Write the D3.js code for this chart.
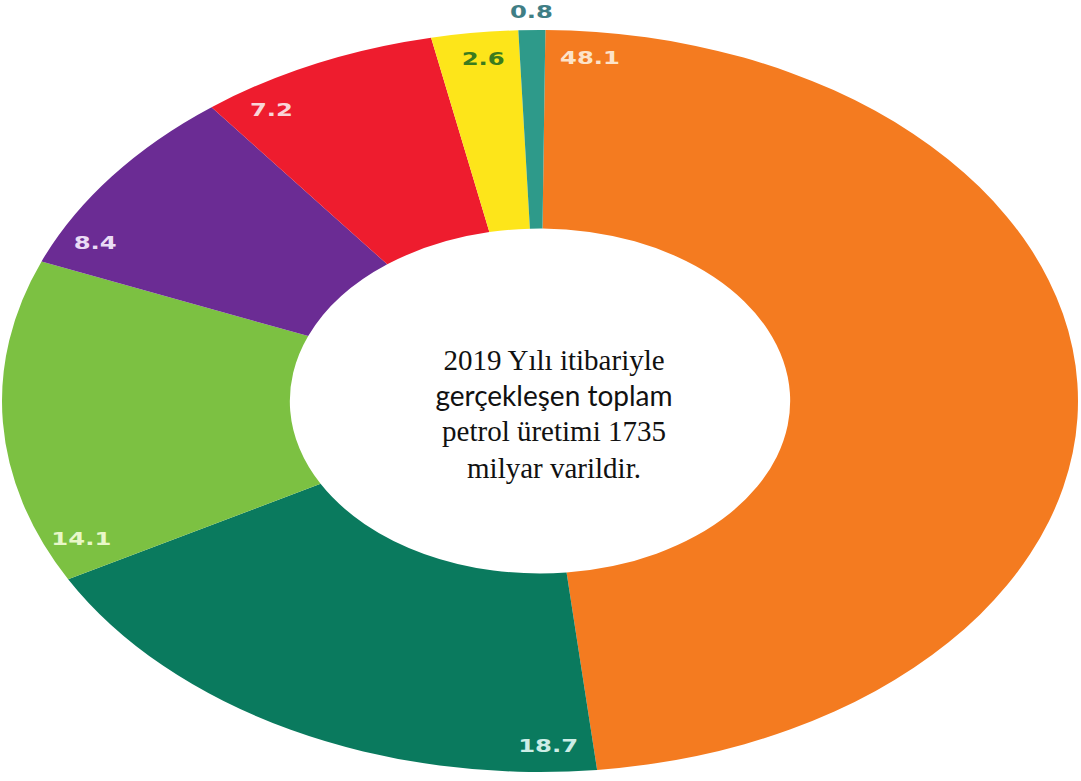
<!DOCTYPE html>
<html>
<head>
<meta charset="utf-8">
<script src="https://cdn.jsdelivr.net/npm/d3@7"></script>
<style>
  html, body { margin: 0; padding: 0; background: #fff; }
  svg { display: block; }
</style>
</head>
<body>
<div id="chart"><svg width="1081" height="781"></svg></div>
<script>
// shares of world oil production, clockwise from the top
const values = [48.1, 18.7, 14.1, 8.4, 7.2, 2.6, 0.8];
const labels = ["48.1", "18.7", "14.1", "8.4", "7.2", "2.6", "0.8"];
const colors = ["#f47b20", "#0a7a5e", "#7cc142", "#6b2c94", "#ee1c2e", "#fde51a", "#2e9a8a"];
const labelColors = ["#fce3c9", "#cdede6", "#e8f7c8", "#eadcf5", "#f9d5d8", "#3b7b1e", "#3f7e85"];
const centerLines = ["2019 Yılı itibariyle", "gerçekleşen toplam", "petrol üretimi 1735", "milyar varildir."];

const svg = d3.select("#chart svg");
const width = +svg.attr("width");
const height = +svg.attr("height");

// the picture is a donut stretched sideways
const cx = 540, cy = 401;
const rx = 538, ry = 371;
const R = 100;

const pie = d3.pie().value((d) => d).sort(null).startAngle(0.01).endAngle(0.01 + 2 * Math.PI);
const arcs = pie(values);

const arc = d3.arc().innerRadius(R * 0.465).outerRadius(R);

const g = svg.append("g")
  .attr("transform", `translate(${cx},${cy}) scale(${rx / R},${ry / R})`);

g.selectAll("path")
  .data(arcs)
  .enter()
  .append("path")
  .attr("d", arc)
  .attr("fill", (_, i) => colors[i]);

// labels near the leading edge of each slice; the tiny last slice gets its label outside
const labelPos = (d, i) => {
  const last = i === arcs.length - 1;
  const a = last ? (d.startAngle + d.endAngle) / 2 : d.startAngle + 0.09;
  const r = last ? 1.05 : 0.93;
  return [cx + r * rx * Math.sin(a), cy - r * ry * Math.cos(a)];
};

svg.append("g")
  .selectAll("text")
  .data(arcs)
  .enter()
  .append("text")
  .attr("transform", (d, i) => {
    const [x, y] = labelPos(d, i);
    return `translate(${x},${y}) scale(1.35,1)`;
  })
  .attr("text-anchor", "middle")
  .attr("dominant-baseline", "central")
  .attr("font-family", "'DejaVu Sans', sans-serif")
  .attr("font-weight", "bold")
  .attr("font-size", 18)
  .attr("fill", (_, i) => labelColors[i])
  .text((_, i) => labels[i]);

// centre note
const note = svg.append("g").attr("transform", "translate(554,0)");
const baselines = [370, 406, 441, 478];
note.selectAll("text")
  .data(centerLines)
  .enter()
  .append("text")
  .attr("x", 0)
  .attr("y", (_, i) => baselines[i])
  .attr("text-anchor", "middle")
  .attr("font-family", (_, i) => i === 1 ? "Lato, 'Open Sans', sans-serif" : "'Liberation Serif', 'Times New Roman', serif")
  .attr("font-size", (_, i) => i === 1 ? 28 : 29)
  .attr("fill", "#111")
  .text((d) => d);
</script>
</body>
</html>
